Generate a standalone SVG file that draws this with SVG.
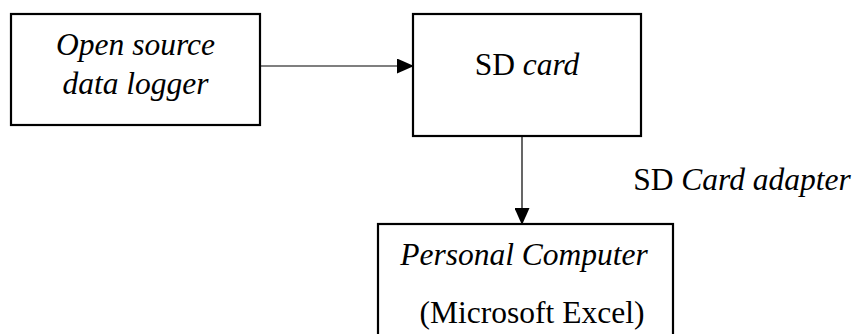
<svg xmlns="http://www.w3.org/2000/svg" width="859" height="334" viewBox="0 0 859 334">
<defs>
<marker id="ah" markerWidth="17" markerHeight="15" refX="16" refY="7.5" orient="auto" markerUnits="userSpaceOnUse">
<path d="M0,0 L17,7.5 L0,15 Z" fill="#000"/>
</marker>
<style>
.box{fill:#fff;stroke:#000;stroke-width:2.2}
.t{font-size:31.5px;fill:#000;text-anchor:middle}
.i{font-style:italic}
.c{stroke:#000;stroke-width:1.2;fill:none}
</style>
</defs>
<rect width="859" height="334" fill="#fff"/>
<g font-family="Liberation Serif, Times New Roman, serif">
<g id="connectors">
<line class="c" x1="260" y1="66" x2="413" y2="66" marker-end="url(#ah)"/>
<line class="c" x1="522" y1="136" x2="522" y2="224" marker-end="url(#ah)"/>
<text class="t" x="742" y="190">SD <tspan class="i">Card adapter</tspan></text>
</g>
<g id="logger">
<rect class="box" x="11" y="14" width="249" height="111"/>
<text class="t i" x="135.5" y="55">Open source</text>
<text class="t i" x="135.5" y="94">data logger</text>
</g>
<g id="sdcard">
<rect class="box" x="413" y="14" width="228" height="122"/>
<text class="t" x="527" y="75">SD <tspan class="i">card</tspan></text>
</g>
<g id="pc">
<rect class="box" x="378" y="224" width="295" height="120"/>
<text class="t i" x="524" y="265">Personal Computer</text>
<text class="t" x="532" y="323">(Microsoft Excel)</text>
</g>
</g>
</svg>
